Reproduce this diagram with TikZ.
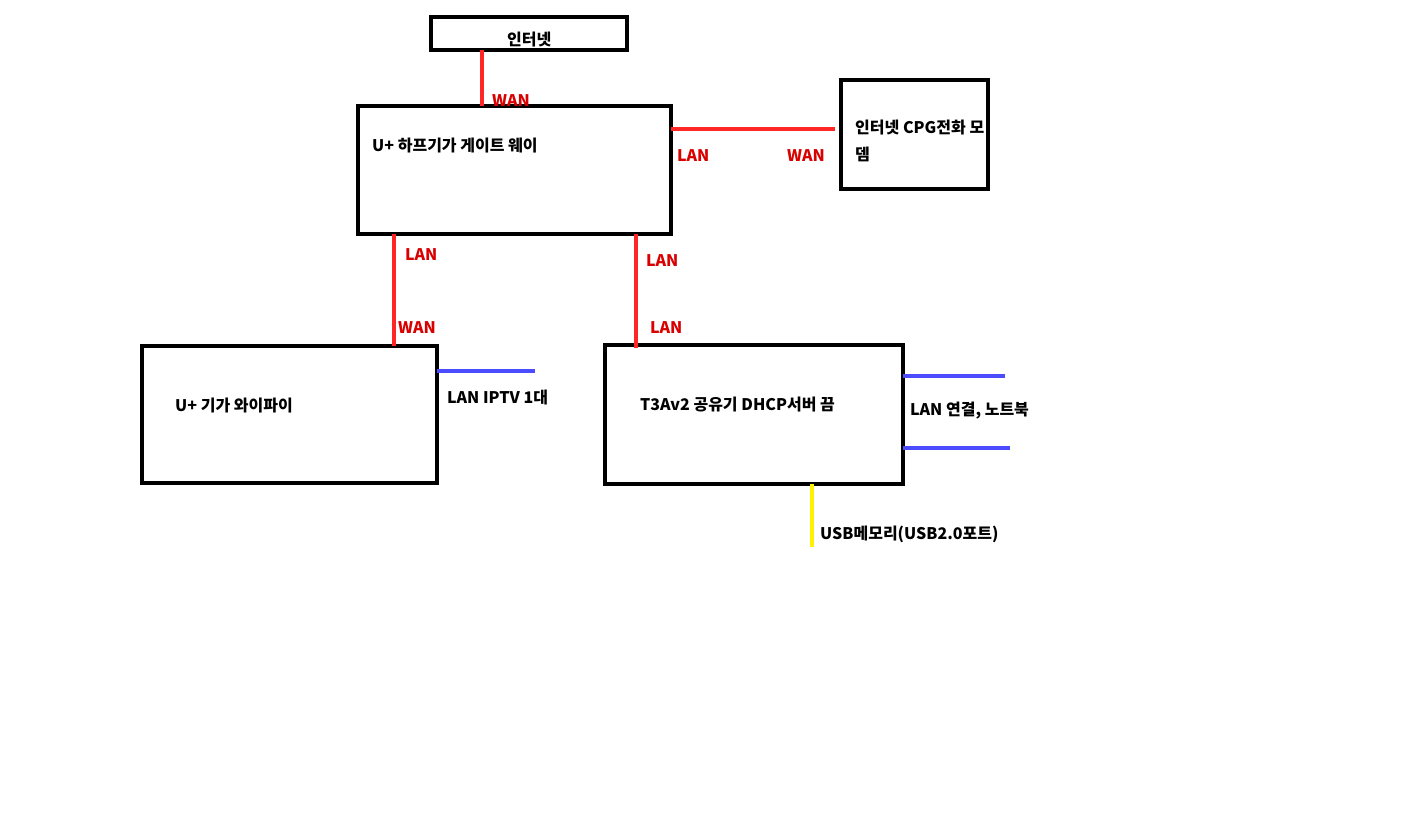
\documentclass[tikz,border=0pt]{standalone}
\usepackage{fontspec}
\setmainfont{Noto Sans CJK KR}
\begin{document}
\begin{tikzpicture}[x=1pt,y=-1pt,
  box/.style={draw=black,line width=4pt,inner sep=0pt},
  lbl/.style={anchor=west,font=\fontsize{16}{19}\selectfont\bfseries,inner sep=0pt},
  rl/.style={lbl,text=red!85!black},
  red/.style={draw=red!85!white,line width=4pt},
  blu/.style={draw=blue!70!white,line width=4pt},
  yel/.style={draw=yellow,line width=4pt}]
\fill[white] (0,0) rectangle (1402,834);
\useasboundingbox (0,0) rectangle (1402,834);
\draw[box] (431,17) rectangle (627,50);
\node[lbl] (tinet) at (507,40) {인터넷};
\draw[box] (358,106) rectangle (671,234);
\node[lbl] (tgw) at (372,146) {U+ 하프기가 게이트 웨이};
\draw[box] (841,80) rectangle (988,189);
\node[lbl] (tm1) at (855,128) {인터넷 CPG전화 모};
\node[lbl] (tm2) at (855,154) {뎀};
\draw[box] (142,346) rectangle (437,483);
\node[lbl] (twf) at (175,406) {U+ 기가 와이파이};
\draw[box] (605,345) rectangle (903,484);
\node[lbl] (tt3) at (640,405) {T3Av2 공유기 DHCP서버 끔};
\coordinate (a1) at (482,50); \coordinate (a2) at (482,106);
\draw[red] (a1) -- (a2); \node[rl] at (492,101) {WAN};
\coordinate (b1) at (671,129); \coordinate (b2) at (835,129);
\draw[red] (b1) -- (b2); \node[rl] at (677,156) {LAN}; \node[rl] at (787,156) {WAN};
\coordinate (c1) at (394,234); \coordinate (c2) at (394,346);
\draw[red] (c1) -- (c2); \node[rl] at (405,255) {LAN}; \node[rl] at (398,328) {WAN};
\coordinate (d1) at (636,234); \coordinate (d2) at (636,348);
\draw[red] (d1) -- (d2); \node[rl] at (646,261) {LAN}; \node[rl] at (650,328) {LAN};
\coordinate (e1) at (437,371); \coordinate (e2) at (535,371);
\draw[blu] (e1) -- (e2); \node[lbl] at (447,397) {LAN IPTV 1대};
\coordinate (f1) at (903,376); \coordinate (f2) at (1005,376);
\coordinate (g1) at (903,448); \coordinate (g2) at (1010,448);
\draw[blu] (f1) -- (f2); \draw[blu] (g1) -- (g2);
\node[lbl] at (910,411) {LAN 연결, 노트북};
\coordinate (h1) at (812,484); \coordinate (h2) at (812,547);
\draw[yel] (h1) -- (h2); \node[lbl] at (820,534) {USB메모리(USB2.0포트)};
\end{tikzpicture}
\end{document}
